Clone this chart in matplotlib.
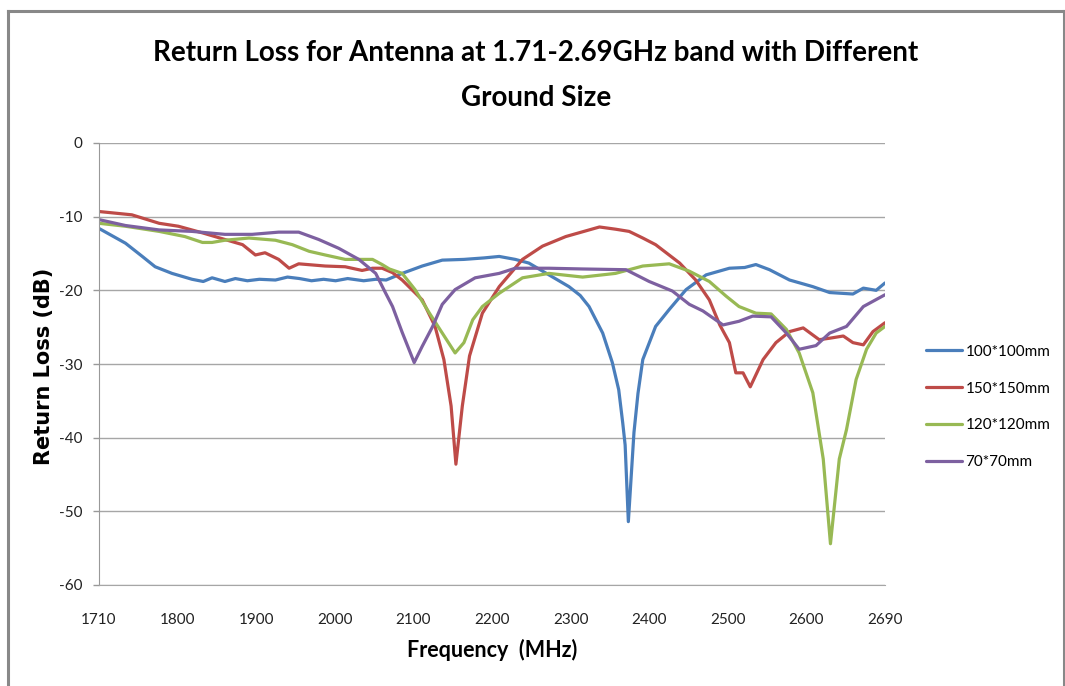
import matplotlib
matplotlib.use("Agg")
import matplotlib.pyplot as plt
from matplotlib.lines import Line2D

# ---------------- data ----------------
x_tick_labels = ["1710", "1800", "1900", "2000", "2100", "2200", "2300", "2400", "2500", "2600", "2690"]
y_ticks = [0, -10, -20, -30, -40, -50, -60]

f_100 = [1710, 1743, 1764, 1780, 1801, 1826, 1840, 1851, 1867, 1880, 1895, 1910, 1930, 1945, 1960,
         1975, 1990, 2005, 2020, 2040, 2055, 2068, 2088, 2113, 2138, 2165, 2190, 2209, 2229, 2246,
         2271, 2296, 2310, 2321, 2338, 2350, 2358, 2363, 2366, 2370, 2377, 2382, 2388, 2404, 2421, 2442, 2467, 2496,
         2515, 2529, 2546, 2571, 2600, 2621, 2650, 2663, 2679, 2690]
rl_100 = [-11.6, -13.6, -15.4, -16.8, -17.7, -18.5, -18.8, -18.3, -18.8, -18.4, -18.7, -18.5, -18.6, -18.2, -18.4,
          -18.7, -18.5, -18.7, -18.4, -18.7, -18.5, -18.6, -17.7, -16.7, -15.9, -15.8, -15.6, -15.4, -15.8, -16.3,
          -17.9, -19.5, -20.7, -22.2, -25.8, -29.8, -33.5, -38.0, -41.0, -51.4, -39.3, -34.0, -29.4, -24.9, -22.6, -19.9, -17.9, -17.0,
          -16.9, -16.5, -17.2, -18.6, -19.5, -20.3, -20.5, -19.7, -20.0, -19.0]

f_150 = [1710, 1751, 1785, 1809, 1839, 1867, 1889, 1905, 1917, 1934, 1947, 1959, 1992, 2017, 2038,
         2051, 2063, 2076, 2088, 2113, 2129, 2140, 2149, 2155, 2163, 2172, 2188, 2209, 2238, 2263,
         2292, 2334, 2354, 2371, 2388, 2404, 2434, 2454, 2471, 2484, 2496, 2504, 2513, 2522, 2538,
         2554, 2571, 2588, 2608, 2621, 2638, 2650, 2663, 2675, 2690]
rl_150 = [-9.3, -9.75, -10.9, -11.3, -12.2, -13.1, -13.8, -15.2, -14.9, -15.8, -17.0, -16.4, -16.7, -16.8, -17.3,
          -17.0, -17.0, -17.6, -18.6, -21.3, -24.9, -29.4, -35.7, -43.6, -35.7, -28.9, -23.1, -19.5, -15.8, -14.0,
          -12.7, -11.4, -11.7, -12.0, -12.9, -13.8, -16.3, -18.6, -21.3, -24.7, -27.1, -31.2, -31.2, -33.1, -29.4,
          -27.1, -25.6, -25.1, -26.7, -26.5, -26.2, -27.1, -27.4, -25.6, -24.4]

f_120 = [1710, 1743, 1785, 1817, 1839, 1851, 1867, 1897, 1930, 1951, 1972, 1992, 2017, 2051, 2063,
         2072, 2088, 2104, 2122, 2138, 2154, 2165, 2176, 2188, 2209, 2238, 2271, 2313, 2354, 2388,
         2421, 2446, 2471, 2492, 2508, 2529, 2548, 2567, 2583, 2600, 2613, 2622, 2633, 2642, 2654,
         2667, 2679, 2690]
rl_120 = [-10.9, -11.3, -12.0, -12.7, -13.5, -13.5, -13.2, -12.9, -13.2, -13.8, -14.7, -15.2, -15.8, -15.8, -16.5,
          -17.1, -17.7, -19.9, -23.1, -25.8, -28.5, -27.1, -24.0, -22.2, -20.4, -18.3, -17.7, -18.2, -17.7, -16.7,
          -16.4, -17.4, -18.8, -20.8, -22.2, -23.1, -23.2, -25.3, -28.5, -33.9, -42.9, -54.4, -42.9, -38.9, -32.1,
          -28.0, -25.8, -24.9]

f_70 = [1710, 1743, 1785, 1826, 1867, 1901, 1934, 1959, 1984, 2009, 2034, 2055, 2067, 2076, 2088,
        2103, 2113, 2126, 2138, 2154, 2179, 2209, 2229, 2271, 2313, 2367, 2396, 2425, 2446, 2463,
        2488, 2508, 2525, 2548, 2567, 2583, 2604, 2621, 2642, 2663, 2690]
rl_70 = [-10.4, -11.2, -11.8, -12.0, -12.4, -12.4, -12.1, -12.1, -13.1, -14.3, -15.8, -17.7, -20.3, -22.2, -25.7,
         -29.8, -27.6, -24.9, -21.9, -19.9, -18.3, -17.7, -17.0, -17.0, -17.1, -17.2, -18.8, -20.1, -21.9, -22.8,
         -24.7, -24.2, -23.5, -23.6, -25.8, -28.0, -27.5, -25.8, -24.9, -22.2, -20.6]

series = [
    ("100*100mm", f_100, rl_100, "#4a7ebb"),
    ("150*150mm", f_150, rl_150, "#be4b48"),
    ("120*120mm", f_120, rl_120, "#98b954"),
    ("70*70mm", f_70, rl_70, "#7d60a0"),
]

title_lines = ["Return Loss for Antenna at 1.71-2.69GHz band with Different", "Ground Size"]
x_label = "Frequency  (MHz)"
y_label = "Return Loss (dB)"

body = "Lato"

W, H = 1065, 686
fig = plt.figure(figsize=(W / 100, H / 100), dpi=100)
fig.patch.set_facecolor("white")

# outer chart border
border_kw = dict(color="#888888", lw=2.2, transform=fig.transFigure)
fig.add_artist(Line2D([8 / W, 1064 / W], [1 - 11 / H, 1 - 11 / H], **border_kw))
fig.add_artist(Line2D([8 / W, 8 / W], [0, 1 - 11 / H], **border_kw))
fig.add_artist(Line2D([1064 / W, 1064 / W], [0, 1 - 11 / H], **border_kw))

ax = fig.add_axes([99 / W, 1 - 585 / H, (885 - 99) / W, (585 - 143) / H])

x0, x1 = 1710, 2690
for name, fx, ry, col in series:
    ax.plot(fx, ry, color=col, lw=2.3, label=name, solid_capstyle="round", solid_joinstyle="round")

ax.set_xlim(x0, x1)
ax.set_ylim(-60, 0)
ax.set_yticks(y_ticks)
ax.set_yticklabels([str(v) for v in y_ticks], fontsize=11, family=body, color="#222222")
xpos = [x0 + i * (x1 - x0) / (len(x_tick_labels) - 1) for i in range(len(x_tick_labels))]
ax.set_xticks(xpos)
ax.set_xticklabels(x_tick_labels, fontsize=11, family=body, color="#222222")
ax.tick_params(axis="x", length=0, pad=20)
ax.tick_params(axis="y", length=4, width=1, color="#999999", pad=8)

ax.grid(axis="y", color="#a6a6a6", lw=1)
ax.set_axisbelow(True)
for s in ["top", "right"]:
    ax.spines[s].set_visible(False)
ax.spines["left"].set_color("#999999")
ax.spines["bottom"].set_color("#a6a6a6")

fig.text(536 / W, 1 - 53 / H, title_lines[0], ha="center", va="center", fontsize=20, fontweight="bold",
         family=body)
fig.text(536 / W, 1 - 98 / H, title_lines[1], ha="center", va="center", fontsize=20, fontweight="bold",
         family=body)
fig.text(492 / W, 1 - 650 / H, x_label, ha="center", va="center", fontsize=15.5, fontweight="bold",
         family=body)
fig.text(44 / W, 1 - 366 / H, y_label, ha="center", va="center", rotation=90, fontsize=15,
         fontweight="bold", family="DejaVu Sans")

leg = ax.legend(loc="upper left", bbox_to_anchor=(918 / W, 1 - 337 / H), bbox_transform=fig.transFigure,
                frameon=False, prop={"family": body, "size": 11}, handlelength=2.4, handletextpad=0.2,
                labelspacing=1.5, borderpad=0)

fig.savefig("out.png", dpi=100, facecolor="white")
